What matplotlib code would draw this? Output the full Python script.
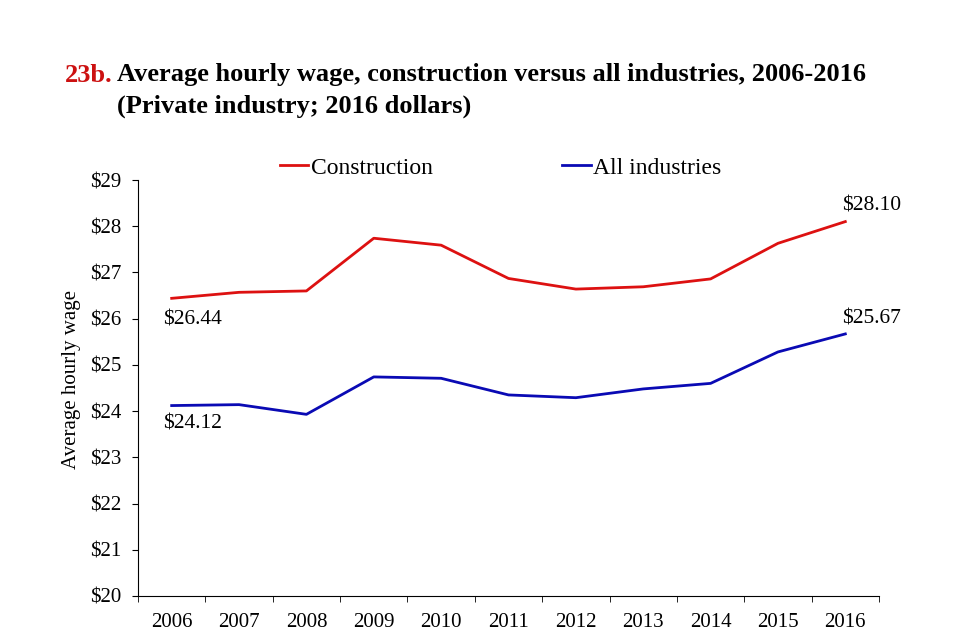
import numpy as np
import matplotlib.pyplot as plt

# ---Datos---
years = ['2006', '2007', '2008', '2009', '2010', '2011', '2012', '2013', '2014', '2015', '2016']
construction = [26.44, 26.57, 26.60, 27.74, 27.59, 26.87, 26.64, 26.69, 26.86, 27.63, 28.10]
all_industries = [24.12, 24.14, 23.93, 24.74, 24.71, 24.35, 24.29, 24.48, 24.60, 25.28, 25.67]
yticks = [20, 21, 22, 23, 24, 25, 26, 27, 28, 29]

plt.rcParams['font.family'] = ['Liberation Serif', 'DejaVu Serif']

fig = plt.figure(figsize=(9.6, 6.3), dpi=100)
ax = fig.add_axes([138/960, 1-596/630, (879-138)/960, (596-180)/630])

x = np.arange(len(years))
red = '#dd1111'
blue = '#0a0ab4'
ax.plot(x, construction, color=red, lw=2.0, label='Construction')
ax.plot(x, all_industries, color=blue, lw=2.0, label='All industries')

# etiquetas de extremos
fs = 15.5
ax.annotate('$%.2f' % construction[0], (x[0], construction[0]), xytext=(-9, -22),
            textcoords='offset pixels', ha='left', va='center', fontsize=fs)
ax.annotate('$%.2f' % all_industries[0], (x[0], all_industries[0]), xytext=(-9, -18),
            textcoords='offset pixels', ha='left', va='center', fontsize=fs)
ax.annotate('$%.2f' % construction[-1], (x[-1], construction[-1]), xytext=(-3, 16),
            textcoords='offset pixels', ha='left', va='center', fontsize=fs)
ax.annotate('$%.2f' % all_industries[-1], (x[-1], all_industries[-1]), xytext=(-3, 15),
            textcoords='offset pixels', ha='left', va='center', fontsize=fs)

# ejes
ax.set_xlim(-0.5, len(years) - 0.5)
ax.set_ylim(20, 29)
ax.set_yticks(yticks)
ax.set_yticklabels(['$%d' % v for v in yticks])
ax.set_xticks(x)
ax.set_xticklabels(years)
ax.set_xticks(np.arange(-0.5, len(years)), minor=True)
ax.tick_params(axis='x', which='major', length=0, pad=12, labelsize=15)
ax.tick_params(axis='x', which='minor', length=4, direction='out')
ax.tick_params(axis='y', length=4, direction='out', labelsize=15, pad=8)
for s in ['top', 'right']:
    ax.spines[s].set_visible(False)
ax.set_ylabel('Average hourly wage', fontsize=15)
ax.yaxis.set_label_coords(-0.077, 0.52)

leg = ax.legend(loc='center left', bbox_to_anchor=(280/960, 1-168/630), bbox_transform=fig.transFigure,
                ncol=2, frameon=False, fontsize=17, handlelength=1.2, handletextpad=0.1,
                columnspacing=5.5, borderaxespad=0, borderpad=0)

# titulo
fig.text(65/960, 1-75/630, '23b.', color='#cc1111', fontsize=19, fontweight='bold', va='center')
fig.text(117/960, 1-75/630, 'Average hourly wage, construction versus all industries, 2006-2016',
         fontsize=19, fontweight='bold', va='center')
fig.text(117/960, 1-106/630, '(Private industry; 2016 dollars)', fontsize=19, fontweight='bold',
         va='center')

fig.savefig('out.png', dpi=100)
